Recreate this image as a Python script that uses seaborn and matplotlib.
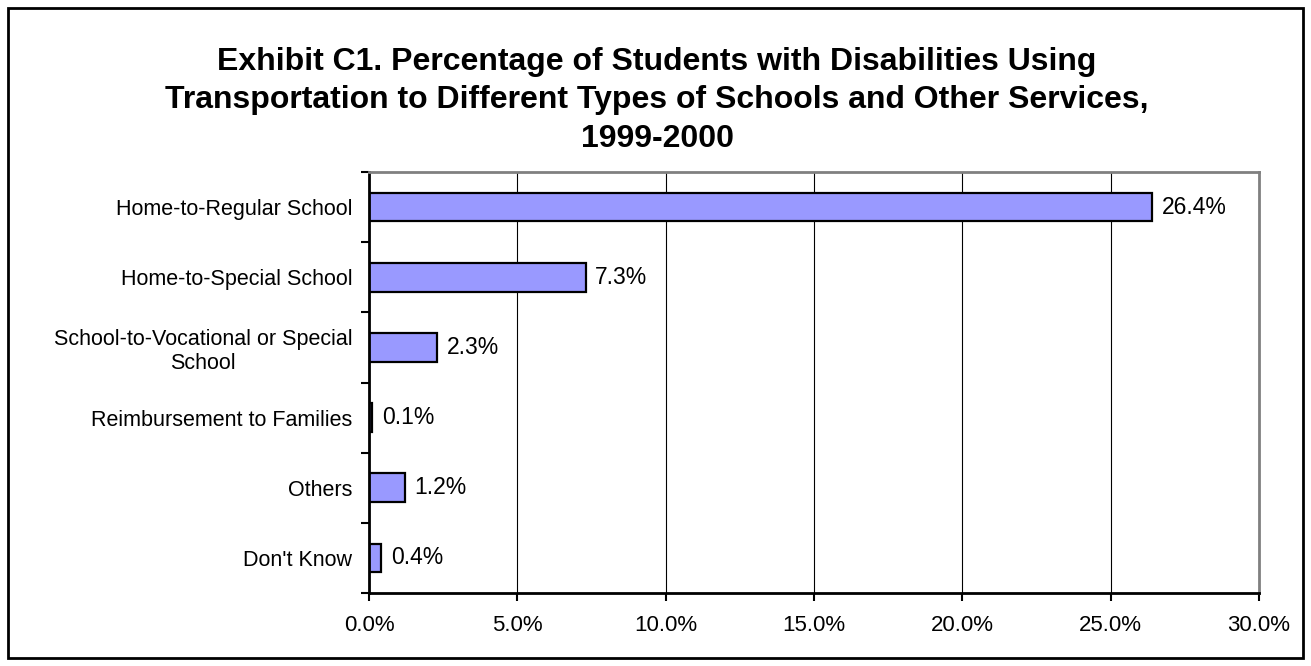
import matplotlib
matplotlib.use("Agg")
import matplotlib.pyplot as plt
import seaborn as sns
import pandas as pd
import numpy as np
from matplotlib.patches import Rectangle
from matplotlib.ticker import FuncFormatter, FixedLocator

categories = ["Home-to-Regular School", "Home-to-Special School",
              "School-to-Vocational or Special\nSchool", "Reimbursement to Families",
              "Others", "Don't Know"]
values = [26.4, 7.3, 2.3, 0.1, 1.2, 0.4]
xticks = [0, 5, 10, 15, 20, 25, 30]
title = ("Exhibit C1. Percentage of Students with Disabilities Using\n"
         "Transportation to Different Types of Schools and Other Services,\n"
         "1999-2000")

sns.set_theme(style="white")
plt.rcParams['font.family'] = ['Liberation Sans', 'DejaVu Sans']
plt.rcParams['text.color'] = 'black'
plt.rcParams['xtick.color'] = 'black'
plt.rcParams['ytick.color'] = 'black'
plt.rcParams['xtick.labelcolor'] = 'black'
plt.rcParams['ytick.labelcolor'] = 'black'

df = pd.DataFrame({"cat": categories, "val": values})

fig = plt.figure(figsize=(13.11, 6.66), dpi=100)
ax = fig.add_axes([369/1311, 1-593/666, (1259-369)/1311, (593-172)/666])

sns.barplot(data=df, x="val", y="cat", orient="h", color="#9999FF",
            edgecolor="black", linewidth=1.6, width=0.41, saturation=1, ax=ax)

ax.set_xlim(0, 30)
ax.set_ylim(len(categories)-0.5, -0.5)
ax.xaxis.set_major_locator(FixedLocator(xticks))
ax.xaxis.set_major_formatter(FuncFormatter(lambda v, p: f"{v:.1f}%"))
ax.set_xlabel("")
ax.set_ylabel("")
ax.grid(axis="x", color="black", linewidth=0.8)
ax.set_axisbelow(True)

ax.tick_params(axis="x", which="major", direction="out", length=6, width=1.5,
               color="black", labelsize=16, pad=10, bottom=True, labelcolor="black")
ax.tick_params(axis="y", which="major", length=0, labelsize=15.5, pad=12,
               labelcolor="black")
ax.yaxis.set_minor_locator(FixedLocator(np.arange(-0.5, len(categories), 1.0)))
ax.tick_params(axis="y", which="minor", direction="out", length=6, width=1.5,
               color="black", left=True)
for lab in ax.get_yticklabels():
    lab.set_multialignment("center")

for side in ["left", "bottom"]:
    ax.spines[side].set_color("black")
    ax.spines[side].set_linewidth(2)
for side in ["top", "right"]:
    ax.spines[side].set_color("#808080")
    ax.spines[side].set_linewidth(2)

for i, v in enumerate(values):
    ax.text(v + 0.33, i, f"{v:.1f}%", va="center", ha="left", fontsize=16.5,
            color="black")

fig.text(657/1311, 1-147/666, title, ha="center", va="baseline",
         fontsize=23, fontweight="bold", linespacing=1.38, color="black")

fig.patches.append(Rectangle((8/1311, 8/666), (1303-8)/1311, (658-8)/666,
                             transform=fig.transFigure, fill=False,
                             edgecolor="black", linewidth=2))

fig.savefig("out.png", dpi=100)
